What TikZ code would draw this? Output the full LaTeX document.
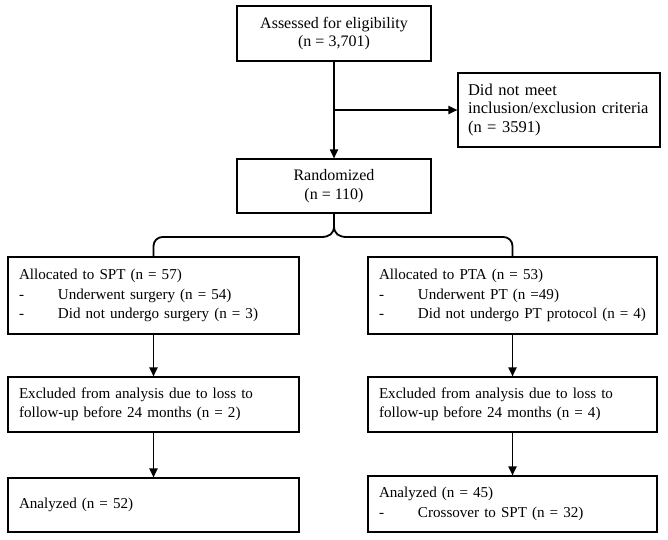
\documentclass[tikz,border=0pt]{standalone}
\usepackage{fontspec}
\setmainfont{Liberation Serif}
\usetikzlibrary{arrows.meta}
\begin{document}
\begin{tikzpicture}[x=1pt,y=-1pt]
  \tikzset{block/.style={shape=rectangle,draw,line width=1.1pt,inner sep=0pt,font=\fontsize{16}{18.5}\selectfont}};
  \tikzset{cblock/.style={block,align=center,minimum width=194pt}};
  \tikzset{lblock/.style={block,align=left,inner xsep=11pt,font=\fontsize{15.1}{19.5}\selectfont}};
  \tikzset{arr/.style={line width=1.8pt,-{Triangle[length=9pt,width=8pt]}}};
  \tikzset{line/.style={line width=1.8pt}};
  \useasboundingbox (0,0) rectangle (668,539);
  \node[block,align=left,inner xsep=10pt,text width=182pt,minimum height=74pt,font=\fontsize{16.5}{18.5}\selectfont](NotMeet) at (559,110){Did not meet\\inclusion/exclusion criteria\\(n = 3591)};
  \node[cblock,minimum height=55pt](Assess) at (334,33.5){Assessed for eligibility\\(n = 3,701)};
  \node[cblock,minimum height=54pt](Rand) at (334,186){Randomized\\(n = 110)};
  \node[lblock,text width=269pt,minimum height=77pt](SPT) at (153.5,295.5){Allocated to SPT (n = 57)\\\makebox[39pt][l]{-}Underwent surgery (n = 54)\\\makebox[39pt][l]{-}Did not undergo surgery (n = 3)};
  \node[lblock,text width=267pt,minimum height=77pt](PTA) at (512.5,295.5){Allocated to PTA (n = 53)\\\makebox[39pt][l]{-}Underwent PT (n =49)\\\makebox[39pt][l]{-}Did not undergo PT protocol (n = 4)};
  \node[lblock,text width=269pt,minimum height=55pt](ExclL) at (153.5,404.5){Excluded from analysis due to loss to\\follow-up before 24 months (n = 2)};
  \node[lblock,text width=267pt,minimum height=55pt](ExclR) at (512.5,404.5){Excluded from analysis due to loss to\\follow-up before 24 months (n = 4)};
  \node[lblock,text width=269pt,minimum height=54pt](AnaL) at (153.5,505){Analyzed (n = 52)};
  \node[lblock,text width=267pt,minimum height=56pt](AnaR) at (512.5,504){Analyzed (n = 45)\\\makebox[39pt][l]{-}Crossover to SPT (n = 32)};
  \coordinate (Split) at (Assess.south |- NotMeet.west);
  \coordinate (Tip) at (334,226);
  \coordinate (BraceL) at (321,237);
  \coordinate (BraceR) at (347,237);
  \draw[arr] (Assess) -- (Rand);
  \draw[arr] (Split) -- (NotMeet);
  \draw[line] (Rand) -- (Tip);
  \draw[line] (BraceL) .. controls (329,237) and (334,234) .. (Tip) .. controls (334,234) and (339,237) .. (BraceR);
  \draw[line,rounded corners=9pt] (SPT.north) |- (BraceL) (BraceR) -| (PTA.north);
  \draw[arr] (SPT) -- (ExclL);
  \draw[arr] (ExclL) -- (AnaL);
  \draw[arr] (PTA) -- (ExclR);
  \draw[arr] (ExclR) -- (AnaR);
\end{tikzpicture}
\end{document}
